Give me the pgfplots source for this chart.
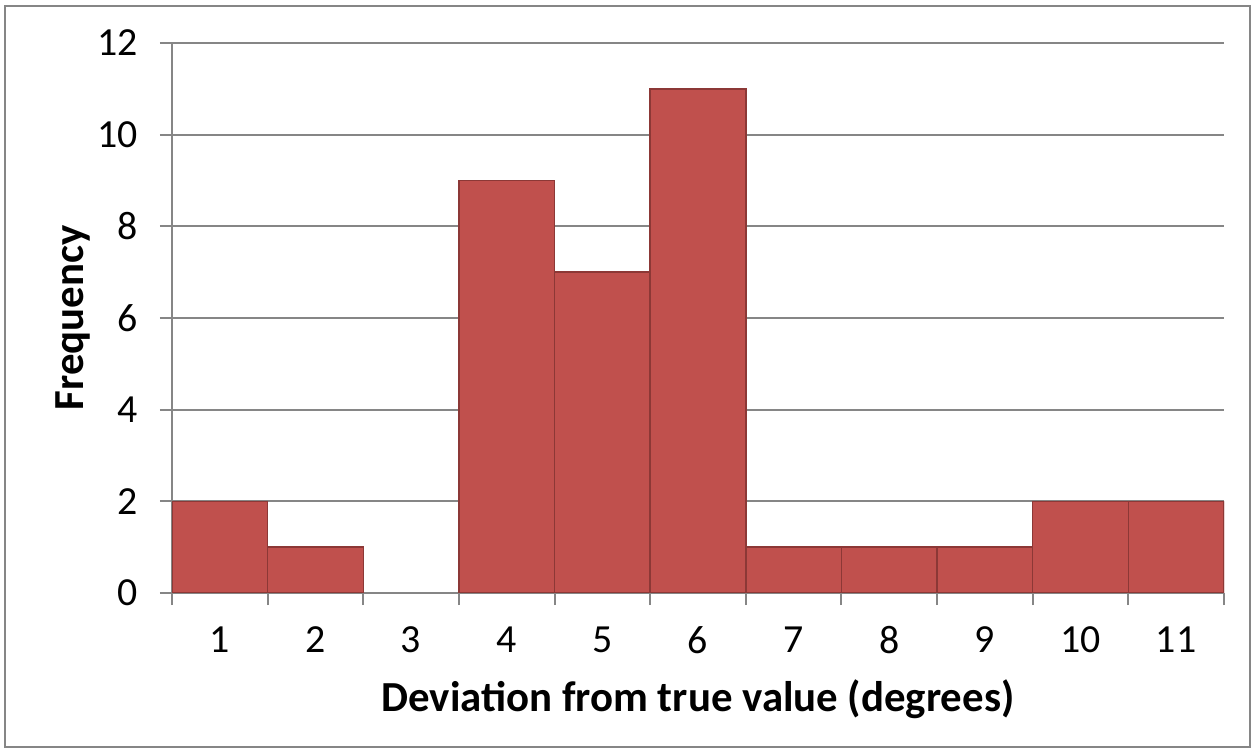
\documentclass[border=0pt]{standalone}
\usepackage{pgfplots}
\pgfplotsset{compat=1.18}
\usepackage{fontspec}
\setmainfont{Carlito}
\definecolor{barfill}{RGB}{192,80,77}
\definecolor{baredge}{RGB}{140,56,54}
\definecolor{linegray}{RGB}{134,134,134}
\begin{document}
\begin{tikzpicture}
\useasboundingbox (0bp,0bp) rectangle (627bp,375.5bp);
% chart frame
\draw[linegray, line width=1bp] (2.5bp,2bp) rectangle (625bp,372.5bp);
\begin{axis}[
  at={(86bp,79bp)}, anchor=south west,
  width=526bp, height=275bp, scale only axis,
  xmin=0.5, xmax=11.5, ymin=0, ymax=12,
  axis x line*=bottom, axis y line*=left,
  axis line style={linegray, line width=1bp, -},
  ytick={0,2,...,12},
  ymajorgrids, grid style={linegray, line width=1bp},
  xtick={1,...,11},
  minor xtick={0.5,1.5,...,11.5},
  tick align=outside,
  major tick length=6bp, minor tick length=6bp,
  tick style={linegray, line width=1bp},
  major x tick style={draw=none},
  /pgf/number format/assume math mode=true,
  ticklabel style={font=\fontsize{20}{24}\selectfont, text=black},
  yticklabel style={anchor=east, xshift=-7.5bp},
  xticklabel style={anchor=center, yshift=-17.5bp},
  xlabel={\bfseries Deviation from true value (degrees)},
  ylabel={\bfseries Frequency},
  label style={font=\fontsize{21.5}{26}\selectfont},
  xlabel style={at={(axis description cs:0.5,0)}, anchor=base, yshift=-59bp},
  ylabel style={at={(axis description cs:0,0.5)}, anchor=base, yshift=44bp},
]
% frequency of each deviation bin (bin 3 is empty)
\addplot[ybar, bar width=1, fill=barfill, draw=baredge, line width=0.75bp]
  coordinates {(1,2) (2,1) (4,9) (5,7) (6,11) (7,1) (8,1) (9,1) (10,2) (11,2)};
\end{axis}
\end{tikzpicture}
\end{document}
